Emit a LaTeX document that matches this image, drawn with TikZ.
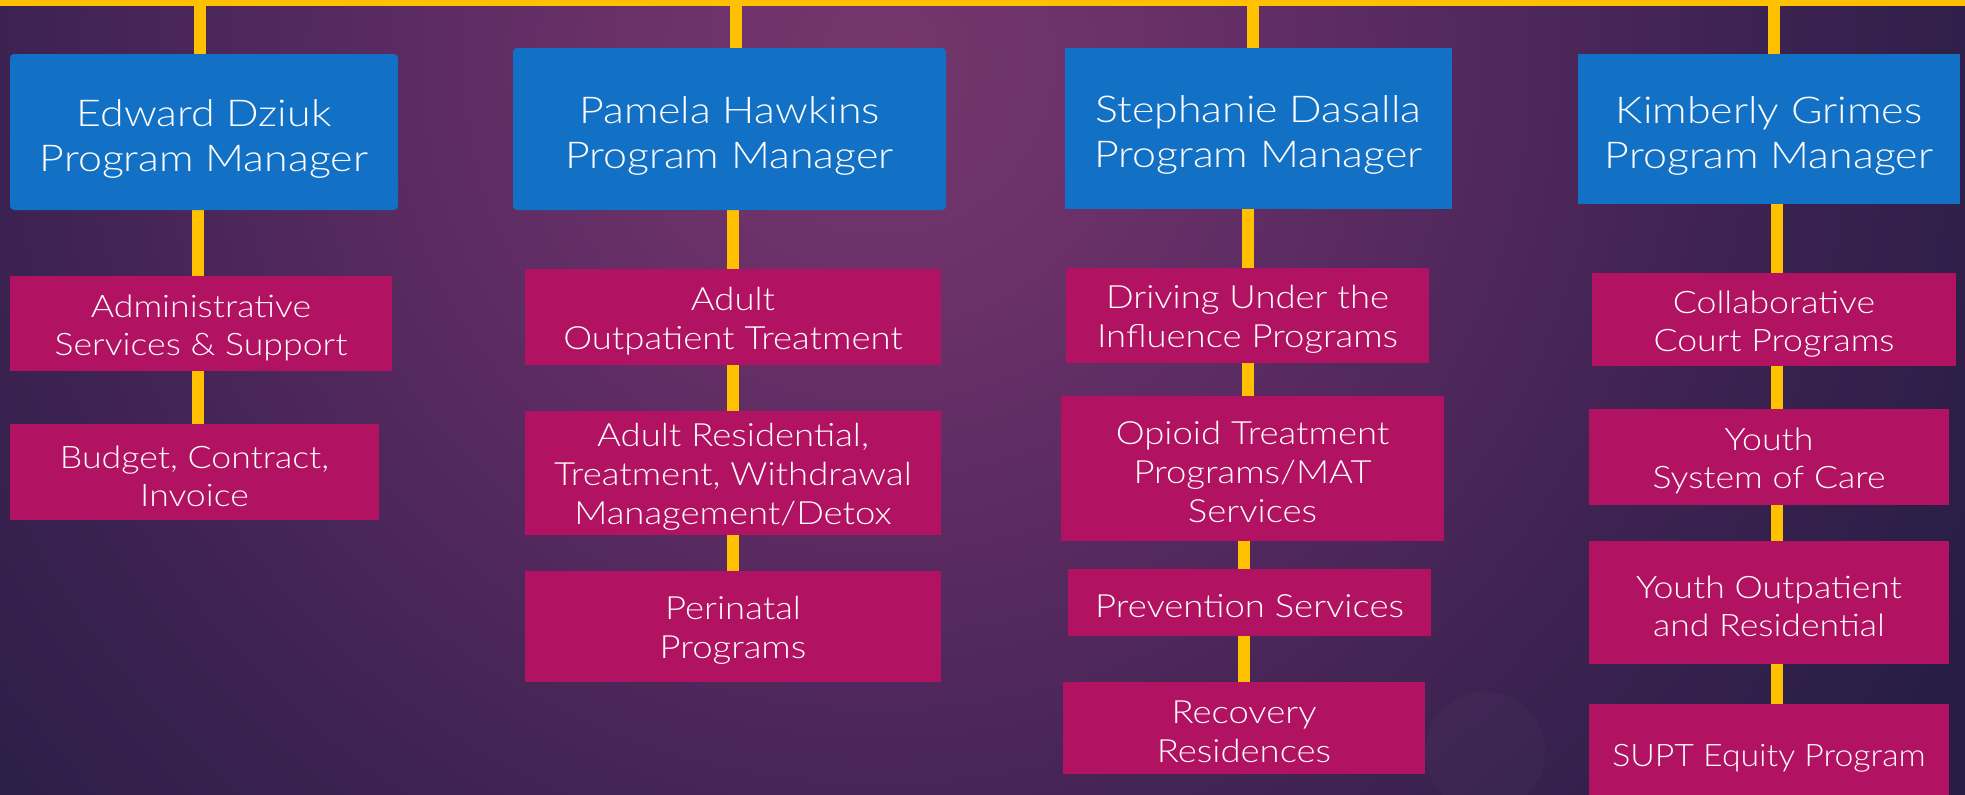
\documentclass[tikz,border=0pt]{standalone}
\usepackage{fontspec}
\setmainfont{Lato Light}
\usetikzlibrary{calc}
\definecolor{mgrblue}{HTML}{1270C5}
\definecolor{unitpink}{HTML}{B21262}
\definecolor{linegold}{HTML}{FFC000}
\definecolor{bgA}{HTML}{74366D}
\definecolor{bgB}{HTML}{6A3168}
\definecolor{bgC}{HTML}{55295F}
\definecolor{bgD}{HTML}{3B2250}
\definecolor{bgE}{HTML}{261D44}
\pgfdeclareradialshading{bgshade}{\pgfpoint{0bp}{0bp}}{color(0bp)=(bgA); color(5bp)=(bgB); color(11bp)=(bgC); color(18bp)=(bgD); color(25bp)=(bgE); color(50bp)=(bgE)}
\pgfdeclarelayer{bglayer}
\pgfsetlayers{bglayer,main}
\newcommand{\mgrlift}{\rule{0pt}{40pt}}
\newcommand{\unitlift}{\rule{0pt}{31pt}}
\begin{document}
\begin{tikzpicture}[x=1pt,y=-1pt,
  mgr/.style={fill=mgrblue, rounded corners=4pt, text=white, align=center, inner sep=0pt, font=\fontsize{37}{45}\selectfont\addfontfeature{FakeStretch=1.16}},
  unit/.style={fill=unitpink, text=white, align=center, inner sep=0pt, font=\fontsize{31}{38}\selectfont\addfontfeature{FakeStretch=1.15}},
  unitw/.style={unit, font=\fontsize{32}{39}\selectfont\addfontfeature{FakeStretch=1.14}},
  conn/.style={draw=linegold, line width=12pt},
  bar/.style={draw=linegold, line width=6pt}]
\useasboundingbox (0,0) rectangle (1965,795);
% column line positions
\coordinate (barL) at (0,3);
\coordinate (barR) at (1965,3);
\coordinate (k1) at (200,0);
\coordinate (v1) at (198,0);
\coordinate (k2) at (736,0);
\coordinate (v2) at (733,0);
\coordinate (k3) at (1253,0);
\coordinate (v3) at (1248,0);
\coordinate (v3b) at (1244,0);
\coordinate (k4) at (1774,0);
\coordinate (v4) at (1777,0);
% managers
\node[mgr, minimum width=388pt, minimum height=156pt] (m1) at (204,132) {\mgrlift Edward Dziuk\\Program Manager};
\node[mgr, minimum width=433pt, minimum height=162pt] (m2) at (729.5,129) {\mgrlift Pamela Hawkins\\Program Manager};
\node[mgr, minimum width=387pt, minimum height=161pt, rounded corners=0pt] (m3) at (1258.5,128.5) {\mgrlift Stephanie Dasalla\\Program Manager};
\node[mgr, minimum width=382pt, minimum height=150pt, rounded corners=0pt] (m4) at (1769,129) {\mgrlift Kimberly Grimes\\Program Manager};
% units column 1
\node[unit, minimum width=382pt, minimum height=95pt] (a1) at (201,323.5) {\unitlift Administrative\\Services \& Support};
\node[unit, minimum width=369pt, minimum height=96pt] (a2) at (194.5,472) {\unitlift Budget, Contract,\\Invoice};
% column 2
\node[unitw, minimum width=416pt, minimum height=96pt] (b1) at (733,317) {\unitlift Adult\\Outpatient Treatment};
\node[unitw, minimum width=416pt, minimum height=124pt] (b2) at (733,473) {\unitlift Adult Residential,\\Treatment, Withdrawal\\Management/Detox};
\node[unitw, minimum width=416pt, minimum height=111pt] (b3) at (733,626.5) {\unitlift Perinatal\\Programs};
% column 3
\node[unitw, minimum width=363pt, minimum height=95pt] (c1) at (1247.5,315.5) {\unitlift Driving Under the\\Influence Programs};
\node[unitw, minimum width=383pt, minimum height=145pt] (c2) at (1252.5,468.5) {\unitlift Opioid Treatment\\Programs/MAT\\Services};
\node[unitw, minimum width=363pt, minimum height=67pt] (c3) at (1249.5,602.5) {\unitlift Prevention Services};
\node[unitw, minimum width=362pt, minimum height=92pt] (c4) at (1244,728) {\unitlift Recovery\\Residences};
% column 4
\node[unit, minimum width=364pt, minimum height=93pt] (d1) at (1774,319.5) {\unitlift Collaborative\\Court Programs};
\node[unit, minimum width=360pt, minimum height=96pt] (d2) at (1769,457) {\unitlift Youth\\System of Care};
\node[unit, minimum width=360pt, minimum height=123pt] (d3) at (1769,602.5) {\unitlift Youth Outpatient\\and Residential};
\node[unit, minimum width=360pt, minimum height=99pt, font=\fontsize{31}{38}\selectfont\addfontfeature{FakeStretch=1.09}] (d4) at (1769,753.5) {\unitlift SUPT Equity Program};
% background and connectors (behind boxes)
\begin{pgfonlayer}{bglayer}
\begin{scope}
\clip (0,0) rectangle (1965,795);
\fill[bgE] (0,0) rectangle (1965,795);
\shade[shading=bgshade] (880,60) circle (1250pt);
\fill[white, opacity=0.018] (1485,752) circle (60pt);
\end{scope}
\draw[bar] (barL) -- (barR);
\draw[conn] (k1) -- (k1 |- m1.north);
\draw[conn] (v1 |- m1.south) -- (v1 |- a1.north);
\draw[conn] (v1 |- a1.south) -- (v1 |- a2.north);
\draw[conn] (k2) -- (k2 |- m2.north);
\draw[conn] (v2 |- m2.south) -- (v2 |- b1.north);
\draw[conn] (v2 |- b1.south) -- (v2 |- b2.north);
\draw[conn] (v2 |- b2.south) -- (v2 |- b3.north);
\draw[conn] (k3) -- (k3 |- m3.north);
\draw[conn] (v3 |- m3.south) -- (v3 |- c1.north);
\draw[conn] (v3 |- c1.south) -- (v3 |- c2.north);
\draw[conn] (v3b |- c2.south) -- (v3b |- c3.north);
\draw[conn] (v3b |- c3.south) -- (v3b |- c4.north);
\draw[conn] (k4) -- (k4 |- m4.north);
\draw[conn] (v4 |- m4.south) -- (v4 |- d1.north);
\draw[conn] (v4 |- d1.south) -- (v4 |- d2.north);
\draw[conn] (v4 |- d2.south) -- (v4 |- d3.north);
\draw[conn] (v4 |- d3.south) -- (v4 |- d4.north);
\end{pgfonlayer}
\end{tikzpicture}
\end{document}
